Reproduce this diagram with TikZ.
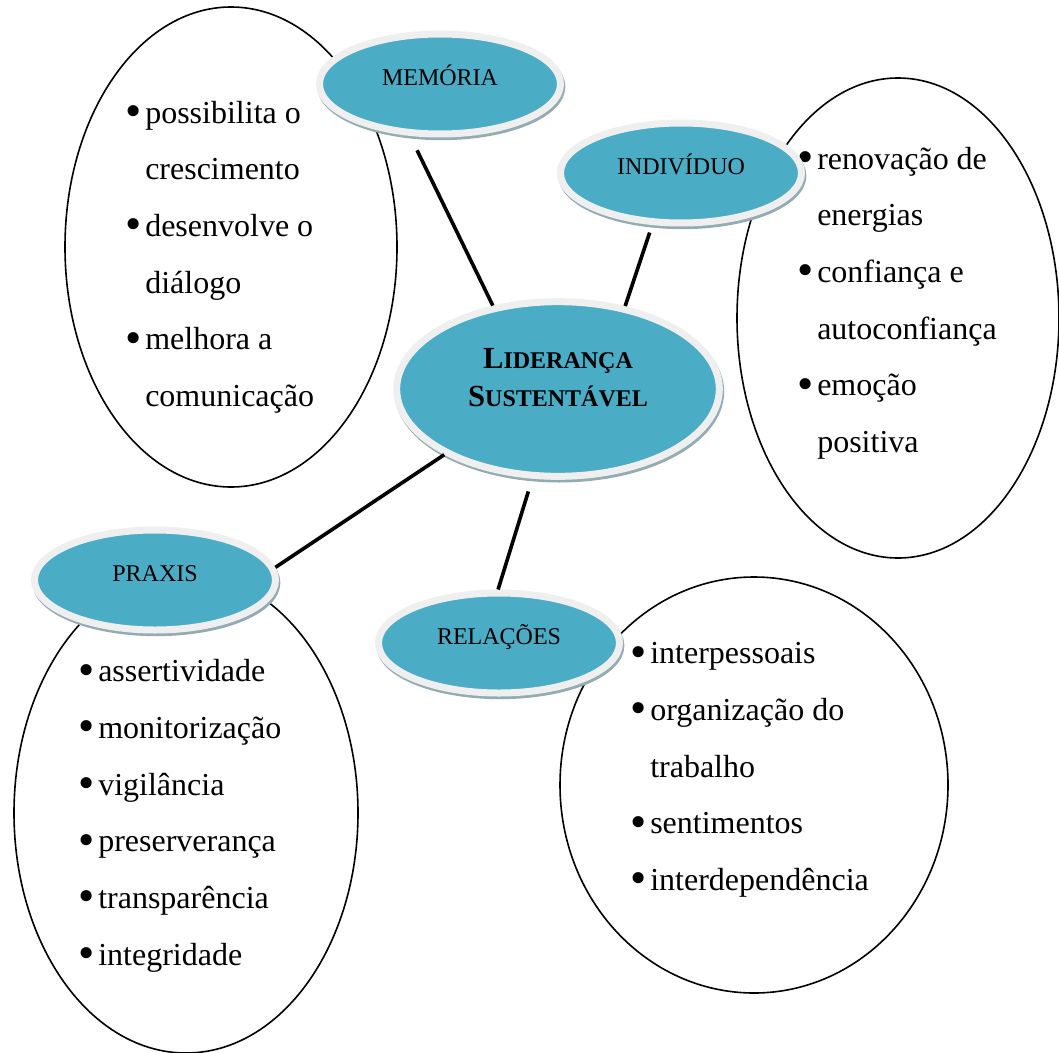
\documentclass[tikz,border=0pt]{standalone}
\usepackage{fontspec}
\setmainfont{Liberation Serif}
\usepackage{xcolor}
\usetikzlibrary{shapes.geometric}
\definecolor{ovalblue}{HTML}{4BACC6}
\definecolor{rimgrey}{HTML}{EFEFEF}
\definecolor{shadegrey}{HTML}{93ACB4}
\newcommand{\bul}{\makebox[13.5pt][l]{\hspace*{-1.5pt}\raisebox{-2.5pt}{\scalebox{1.45}{•}}}}
\newcommand{\cont}{\hspace*{13.5pt}}
\newcommand{\scpart}{\fontsize{18}{28.5}\selectfont}

\begin{document}
\begin{tikzpicture}[x=0.75pt,y=-0.75pt,
        bigoval/.style={ellipse, draw, line width=1.2pt, fill=white, inner sep=0pt},
        oval/.style={ellipse, fill=ovalblue, draw=rimgrey, line width=5.25pt, inner sep=0pt,
                minimum width=180.75pt, minimum height=75pt, font=\fontsize{18}{20}\selectfont,
                text height=14pt, text depth=12pt,
                preaction={draw=shadegrey, fill=shadegrey, transform canvas={xshift=1pt, yshift=-2pt}}},
        list/.style={anchor=west, align=left, inner sep=0pt, font=\fontsize{24}{42.5}\selectfont},
        link/.style={line width=2.7pt}]
        \useasboundingbox (0,0) rectangle (1059,1052);
        % outer ovals
        \node[bigoval, minimum width=249pt, minimum height=360pt](memb) at (231,247) {};
        \node[bigoval, minimum width=241.5pt, minimum height=360pt](indb) at (898,318) {};
        \node[bigoval, minimum width=258pt, minimum height=360pt](prxb) at (186,813) {};
        \node[bigoval, minimum width=291pt, minimum height=312pt](relb) at (754,785) {};
        % lists
        \node[list](meml) at (127,257) {\bul possibilita o\\ \cont crescimento\\ \bul desenvolve o\\ \cont diálogo\\ \bul melhora a\\ \cont comunicação};
        \node[list](indl) at (799,303) {\bul renovação de\\ \cont energias\\ \bul confiança e\\ \cont autoconfiança\\ \bul emoção\\ \cont positiva};
        \node[list](prxl) at (80,816) {\bul assertividade\\ \bul monitorização\\ \bul vigilância\\ \bul preserverança\\ \bul transparência\\ \bul integridade};
        \node[list](rell) at (632,770) {\bul interpessoais\\ \bul organização do\\ \cont trabalho\\ \bul sentimentos\\ \bul interdependência};
        % blue ovals
        \node[oval](mem) at (440,84) {MEMÓRIA};
        \node[oval](ind) at (681,173) {INDIVÍDUO};
        \node[oval](prx) at (155,580) {PRAXIS};
        \node[oval](rel) at (499,643) {RELAÇÕES};
        \node[oval, minimum width=242pt, minimum height=131pt, align=center,
                font=\fontsize{23}{28.5}\selectfont\bfseries, text height=40pt, text depth=14.5pt](lid) at (558,389)
                {L{\scpart IDERANÇA}\\S{\scpart USTENTÁVEL}};
        % links
        \draw[link, shorten <=12pt](mem.-120)--(lid.128);
        \draw[link, shorten <=6pt](ind.-119)--(lid.51);
        \draw[link](lid.-150)--(prx.6);
        \draw[link, shorten <=10pt](lid.-106)--(rel.91);
\end{tikzpicture}
\end{document}
